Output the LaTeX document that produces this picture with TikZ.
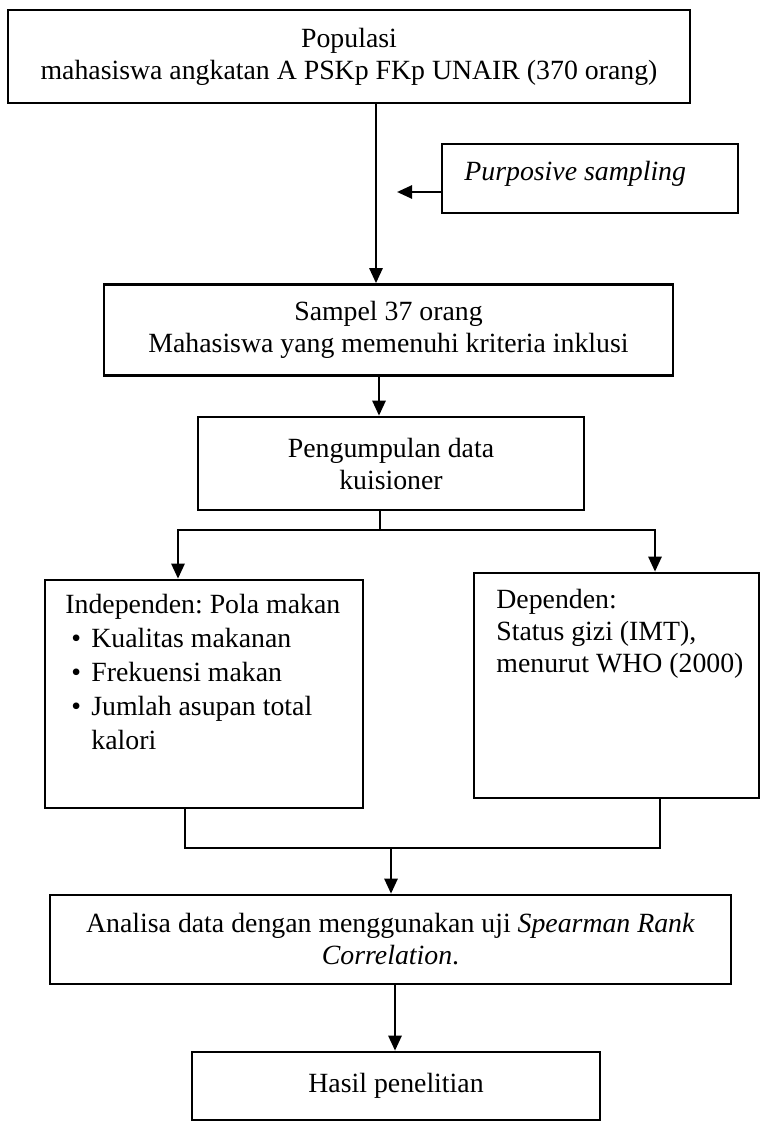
\documentclass[tikz,border=0pt]{standalone}
\usepackage{fontspec}
\setmainfont{Liberation Serif}
\usetikzlibrary{arrows.meta}
\frenchspacing
\begin{document}
\begin{tikzpicture}[x=0.5pt,y=-0.5pt,
  box/.style={draw, line width=1.3pt, inner sep=0pt, align=center, font=\fontsize{13.9pt}{16pt}\selectfont},
  txt/.style={inner sep=0pt, align=left, font=\fontsize{13.9pt}{17pt}\selectfont},
  conn/.style={line width=1.3pt},
  arr/.style={conn, -{Triangle[length=7.5pt,width=6.5pt]}}]
\useasboundingbox (0,0) rectangle (762,1123);

% boxes
\node[box, minimum width=341pt, minimum height=46.5pt] (pop) at (349,56.5)
  {Populasi\\mahasiswa angkatan A PSKp FKp UNAIR (370 orang)};
\node[box, minimum width=148pt, minimum height=34.5pt] (purp) at (590,178.5) {};
\node[txt, anchor=west, font=\fontsize{13.9pt}{17pt}\selectfont\itshape] (purptxt) at (464,174) {Purposive sampling};
\node[box, minimum width=284.5pt, minimum height=45.5pt] (samp) at (388.5,330)
  {Sampel 37 orang\\Mahasiswa yang memenuhi kriteria inklusi};
\node[box, minimum width=193pt, minimum height=46.5pt] (peng) at (391,463.5)
  {Pengumpulan data\\kuisioner};
\node[box, minimum width=159pt, minimum height=114pt] (indep) at (204,694) {};
\node[txt, anchor=north west] (indeptxt) at (65,594)
  {Independen: Pola makan\\
   \hspace*{3pt}\makebox[10pt][l]{\textbullet}Kualitas makanan\\
   \hspace*{3pt}\makebox[10pt][l]{\textbullet}Frekuensi makan\\
   \hspace*{3pt}\makebox[10pt][l]{\textbullet}Jumlah asupan total\\
   \hspace*{13pt}kalori};
\node[box, minimum width=142.5pt, minimum height=112.5pt] (dep) at (616.5,685.5) {};
\node[txt, anchor=north west, font=\fontsize{13.9pt}{16pt}\selectfont] (deptxt) at (496,589)
  {Dependen:\\Status gizi (IMT),\\menurut WHO (2000)};
\node[box, minimum width=340.5pt, minimum height=44.5pt] (anal) at (390.5,939.5)
  {Analisa data dengan menggunakan uji \textit{Spearman Rank}\\\textit{Correlation}.};
\node[box, minimum width=204pt, minimum height=34pt] (hasil) at (396,1086)
  {Hasil penelitian};

% helper coordinates
\coordinate (c1) at (376,0);
\coordinate (pt) at (397,192);
\coordinate (c3) at (379,0);
\coordinate (fk) at (380,530);
\coordinate (lb) at (178,0);
\coordinate (rb) at (655,0);
\coordinate (ml) at (185,0);
\coordinate (mr) at (660,0);
\coordinate (mg) at (391,848);
\coordinate (c6) at (395,0);

% connectors
\draw[arr] (pop.south -| c1) -- (samp.north -| c1);
\draw[arr] (purp.west |- pt) -- (pt);
\draw[arr] (samp.south -| c3) -- (peng.north -| c3);
\draw[conn] (peng.south -| fk) -- (fk);
\draw[arr] (fk) -- (fk -| lb) -- (indep.north -| lb);
\draw[arr] (fk) -- (fk -| rb) -- (dep.north -| rb);
\draw[conn] (indep.south -| ml) -- (ml |- mg) -- (mr |- mg) -- (dep.south -| mr);
\draw[arr] (mg) -- (anal.north -| mg);
\draw[arr] (anal.south -| c6) -- (hasil.north -| c6);
\end{tikzpicture}
\end{document}
